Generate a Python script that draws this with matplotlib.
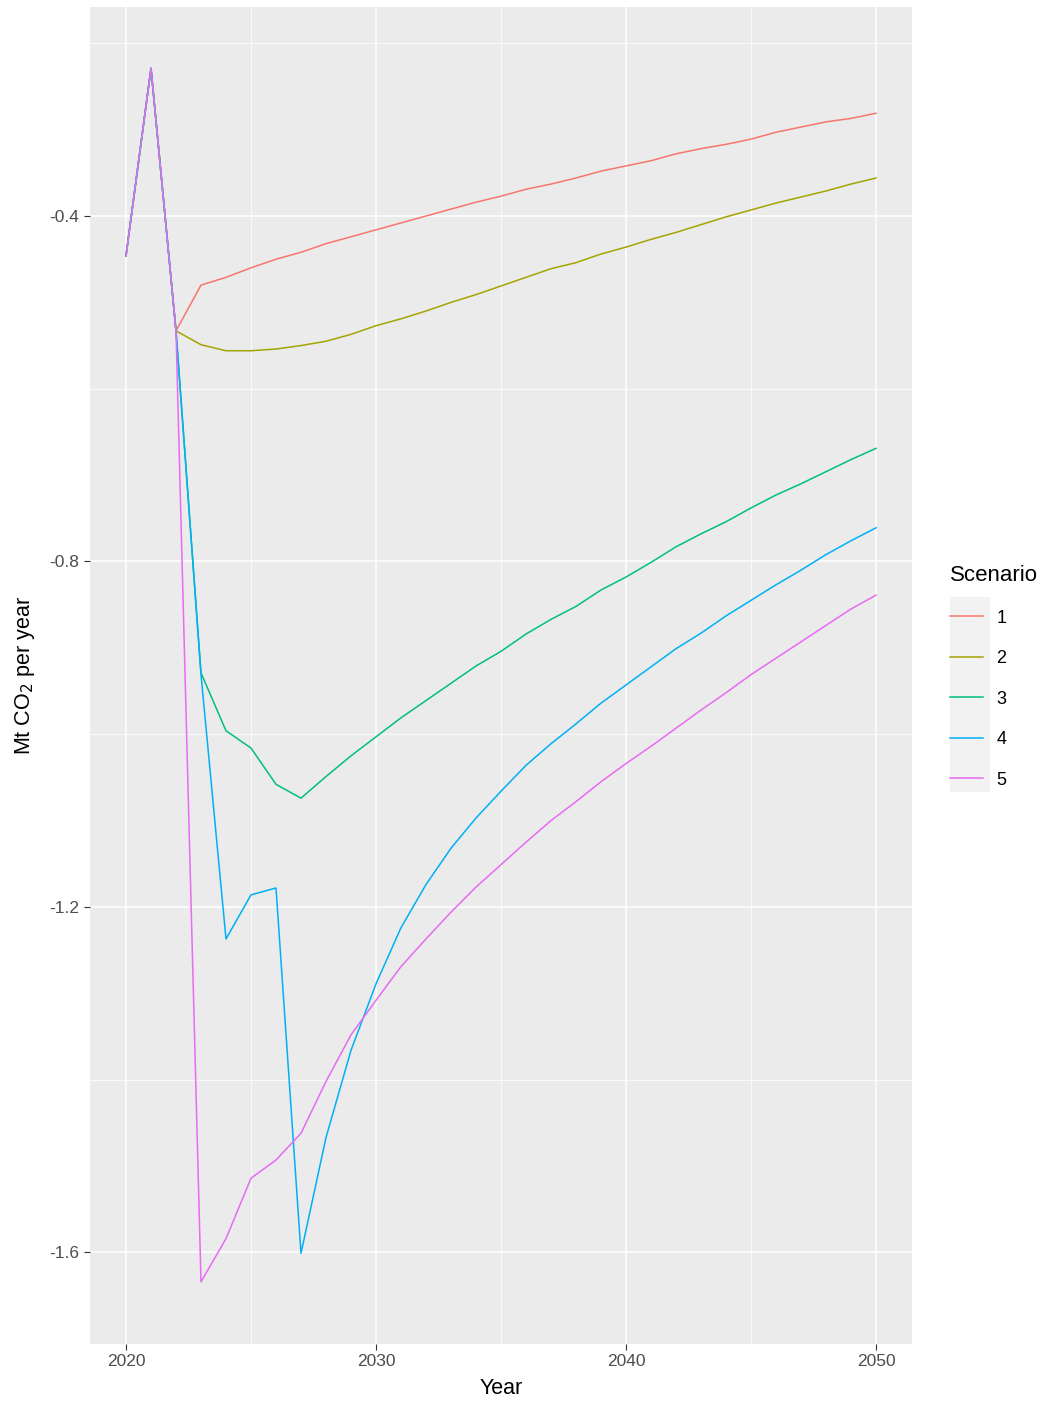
import matplotlib
matplotlib.use("Agg")
import matplotlib.pyplot as plt
from matplotlib.patches import Rectangle
from matplotlib.lines import Line2D

plt.rcParams["font.family"] = ["Liberation Sans", "DejaVu Sans"]

years = list(range(2020, 2051))
start = [-0.446, -0.229, -0.533]

s1 = start + [-0.480, -0.471, -0.460, -0.450, -0.442, -0.432, -0.424, -0.416, -0.408, -0.400,
              -0.392, -0.384, -0.377, -0.369, -0.363, -0.356, -0.348, -0.342, -0.336, -0.328,
              -0.322, -0.317, -0.311, -0.303, -0.297, -0.291, -0.287, -0.281]
s2 = start + [-0.549, -0.556, -0.556, -0.554, -0.550, -0.545, -0.537, -0.527, -0.519, -0.510,
              -0.500, -0.491, -0.481, -0.471, -0.461, -0.454, -0.444, -0.436, -0.427, -0.419,
              -0.410, -0.401, -0.393, -0.385, -0.378, -0.371, -0.363, -0.356]
s3 = start + [-0.929, -0.996, -1.016, -1.058, -1.074, -1.049, -1.025, -1.003, -0.981, -0.961,
              -0.941, -0.921, -0.904, -0.884, -0.867, -0.852, -0.833, -0.818, -0.801, -0.783,
              -0.768, -0.754, -0.738, -0.723, -0.710, -0.696, -0.682, -0.669]
s4 = start + [-0.931, -1.237, -1.186, -1.178, -1.601, -1.467, -1.366, -1.289, -1.224, -1.174,
              -1.132, -1.097, -1.066, -1.036, -1.011, -0.988, -0.964, -0.943, -0.922, -0.901,
              -0.883, -0.863, -0.845, -0.827, -0.810, -0.792, -0.776, -0.761]
s5 = start + [-1.634, -1.584, -1.514, -1.493, -1.462, -1.402, -1.348, -1.308, -1.269, -1.237,
              -1.206, -1.177, -1.151, -1.125, -1.100, -1.078, -1.055, -1.034, -1.014, -0.993,
              -0.972, -0.952, -0.931, -0.912, -0.893, -0.874, -0.855, -0.839]

series = [s1, s2, s3, s4, s5]
labels = ["1", "2", "3", "4", "5"]
colors = ["#F8766D", "#A3A500", "#00BF7D", "#00B0F6", "#E76BF3"]

fig = plt.figure(figsize=(10.52, 14.09), dpi=100)
ax = fig.add_axes([90 / 1052, 1 - 1344 / 1409, 822 / 1052, 1337 / 1409])
ax.set_facecolor("#EBEBEB")
for sp in ax.spines.values():
    sp.set_visible(False)

ax.set_xlim(2018.56, 2051.44)
ax.set_ylim(-1.706, -0.158)
ax.set_xticks([2020, 2030, 2040, 2050])
ax.set_yticks([-1.6, -1.2, -0.8, -0.4])
ax.set_yticklabels(["-1.6", "-1.2", "-0.8", "-0.4"])
ax.set_xticks([2025, 2035, 2045], minor=True)
ax.set_yticks([-1.4, -1.0, -0.6, -0.2], minor=True)
ax.grid(which="major", color="white", linewidth=1.1)
ax.grid(which="minor", color="white", linewidth=0.55)
ax.set_axisbelow(True)
ax.tick_params(which="major", color="#333333", labelsize=12.5, length=4, width=0.8)
ax.tick_params(which="minor", length=0)
for t in ax.get_xticklabels() + ax.get_yticklabels():
    t.set_color("#4D4D4D")

for s, c in zip(series, colors):
    ax.plot(years, s, color=c, linewidth=1.1)

ax.set_xlabel("Year", fontsize=15.5, labelpad=6)
ax.set_ylabel("Mt CO$_2$ per year", fontsize=15.5, labelpad=9)

fig.patches.append(Rectangle((950 / 1052, 1 - 792 / 1409), 40 / 1052, 195 / 1409,
                             transform=fig.transFigure, facecolor="#F2F2F2",
                             edgecolor="none", zorder=0))
handles = [Line2D([0], [0], color=c, linewidth=1.1) for c in colors]
fig.legend(handles, labels, title="Scenario", loc="upper left",
           bbox_to_anchor=(934 / 1052, 1 - 549 / 1409), frameon=False,
           fontsize=13, title_fontsize=16, handlelength=1.8,
           labelspacing=1.3, handletextpad=0.75, alignment="left")

fig.savefig("out.png", dpi=100)
